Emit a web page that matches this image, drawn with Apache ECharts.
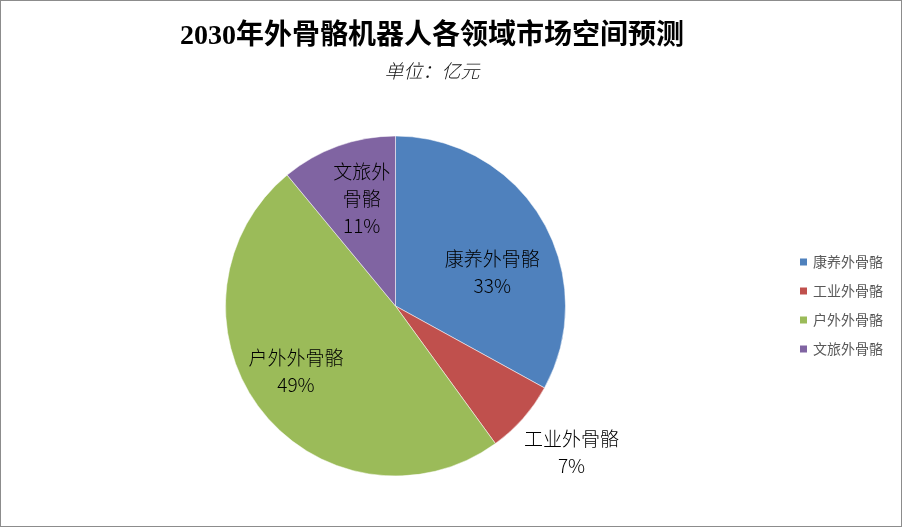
<!DOCTYPE html>
<html>
<head>
<meta charset="utf-8">
<script src="https://cdn.jsdelivr.net/npm/echarts@6/dist/echarts.min.js"></script>
<style>
  html, body { margin: 0; padding: 0; background: #fff; }
  #main { width: 900px; height: 525px; border: 1px solid #8c8c8c; }
</style>
</head>
<body>
<div id="main"></div>
<script>
// 各领域占比（%）
const categories = ["康养外骨骼", "工业外骨骼", "户外外骨骼", "文旅外骨骼"];
const shares = [33, 7, 49, 11];
const colors = ["#4f81bd", "#c0504d", "#9bbb59", "#8064a2"];

// 标签位置微调
const labelOffsets = [[21, 11], [110, 88], [-30, 11], [-4, -24]];
const labelNames = ["康养外骨骼", "工业外骨骼", "户外外骨骼", "文旅外\n骨骼"];

const chart = echarts.init(document.getElementById("main"), null, { renderer: "canvas" });

const cjk = '"Noto Sans CJK SC", sans-serif';

chart.setOption({
  animation: false,
  title: {
    text: "2030年外骨骼机器人各领域市场空间预测",
    subtext: "单位：亿元",
    left: 426,
    textAlign: "center",
    top: 17,
    itemGap: 10,
    textStyle: {
      fontFamily: '"Liberation Serif", "Noto Sans CJK SC", serif',
      fontSize: 28,
      fontWeight: "bold",
      color: "#000"
    },
    subtextStyle: {
      fontFamily: cjk,
      fontSize: 19,
      fontStyle: "italic",
      fontWeight: 300,
      color: "#111"
    }
  },
  legend: {
    orient: "vertical",
    left: 792,
    top: 249,
    itemWidth: 9,
    itemHeight: 9,
    itemGap: 15,
    icon: "rect",
    data: categories,
    textStyle: { fontFamily: cjk, fontSize: 14, color: "#595959" }
  },
  series: [{
    type: "pie",
    center: [394.5, 305],
    radius: 170,
    startAngle: 90,
    clockwise: true,
    percentPrecision: 0,
    itemStyle: { borderColor: "#fff", borderWidth: 0.5 },
    label: {
      position: "inside",
      fontFamily: cjk,
      fontSize: 19,
      fontWeight: 300,
      lineHeight: 27,
      color: "#000"
    },
    labelLine: { show: false },
    emphasis: { disabled: true },
    data: categories.map((name, i) => ({
      name: name,
      value: shares[i],
      itemStyle: { color: colors[i] },
      label: {
        offset: labelOffsets[i],
        formatter: labelNames[i] + "\n{d}%"
      }
    }))
  }]
});
</script>
</body>
</html>
